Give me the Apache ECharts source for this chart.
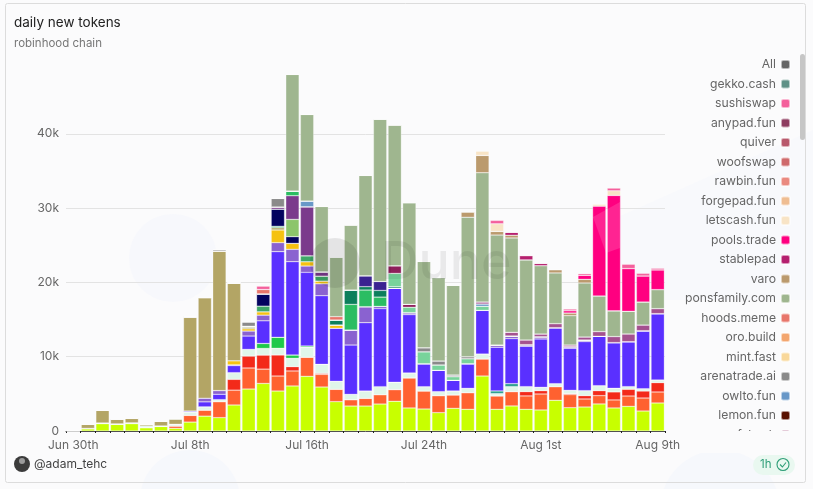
<!DOCTYPE html>
<html><head><meta charset="utf-8">
<style>html,body{margin:0;padding:0;background:#fbfbfc}#c{width:813px;height:489px}</style>
<script src="https://cdn.jsdelivr.net/npm/echarts@6/dist/echarts.min.js"></script>
</head><body><div id="c"></div>
<script>
const categories = ['Jun 30th','Jul 1st','Jul 2nd','Jul 3rd','Jul 4th','Jul 5th','Jul 6th','Jul 7th','Jul 8th','Jul 9th',
 'Jul 10th','Jul 11th','Jul 12th','Jul 13th','Jul 14th','Jul 15th','Jul 16th','Jul 17th','Jul 18th','Jul 19th',
 'Jul 20th','Jul 21st','Jul 22nd','Jul 23rd','Jul 24th','Jul 25th','Jul 26th','Jul 27th','Jul 28th','Jul 29th',
 'Jul 30th','Jul 31st','Aug 1st','Aug 2nd','Aug 3rd','Aug 4th','Aug 5th','Aug 6th','Aug 7th','Aug 8th','Aug 9th'];
const lime = [30,300,1000,900,1000,450,620,360,1200,2000,
 1800,3500,5650,6400,5380,6060,7360,5920,3950,3360,
 3360,3630,4000,3100,2960,2470,3050,2920,7400,2920,
 3370,2920,2830,4130,3140,3230,3640,3100,3320,2690,3770];
const orange = [0,0,0,0,0,0,0,300,900,800,
 2150,2000,2830,1930,2020,2020,2560,1700,1660,850,
 1030,1260,1570,4040,2420,2290,1800,2240,2290,1800,
 1930,1800,2150,1840,1750,1080,1120,1080,1390,1750,1480];
const red = [0,0,0,0,0,0,0,0,0,0,
 0,1450,1600,1880,2830,580,0,130,0,0,
 0,0,0,0,0,0,0,0,0,0,
 0,580,450,0,130,450,670,1080,900,940,1260];
const mint = [0,50,80,60,100,100,60,250,450,450,
 270,900,900,900,900,1120,1350,1220,1080,720,
 990,1080,990,670,580,540,540,580,670,310,
 670,670,450,400,450,670,670,490,360,310,360];
const green = [0,0,0,0,0,130,0,0,0,0,
 0,0,0,670,1480,450,180,0,0,0,
 0,0,0,0,0,0,0,0,0,0,
 0,0,0,0,0,0,0,0,0,0,0];
const teal = [0,0,0,0,0,0,0,0,0,0,
 0,0,0,0,0,0,0,0,0,0,
 0,0,0,0,0,0,0,0,0,360,
 400,0,0,0,0,0,0,0,0,0,0];
const violet = [0,0,0,0,0,0,0,0,150,670,
 720,950,1800,3050,11530,12560,9900,9240,7130,6640,
 9200,10500,12650,7850,3100,2870,1440,3320,5880,5880,
 6060,5430,6500,7540,5660,6600,6650,6150,6060,7810,8930];
const lavender = [0,0,0,0,0,0,0,0,0,500,
 500,100,670,760,1210,1660,850,1600,0,2020,
 2150,300,0,270,0,0,0,0,0,300,
 360,220,310,0,220,220,0,0,0,0,0];
const yellow = [0,0,0,0,0,0,0,0,0,0,
 0,540,300,450,1700,800,580,360,450,0,
 0,0,0,0,0,0,0,0,0,0,
 0,0,0,0,0,0,0,0,0,0,0];
const olive = [50,550,1700,640,600,200,620,750,12600,13500,
 18800,10450,200,0,300,0,0,0,0,0,
 0,0,0,0,0,0,0,0,0,0,
 0,0,0,0,0,0,0,0,0,0,0];
const forest = [0,0,0,0,0,0,0,0,0,0,
 0,0,150,760,200,0,800,670,0,0,
 0,0,0,0,0,0,0,0,0,0,
 0,0,0,0,0,0,0,0,0,0,0];
const navy = [0,0,0,0,0,0,0,0,0,60,
 0,0,0,1660,2300,900,0,0,0,0,
 0,0,0,0,0,0,0,0,0,0,
 0,0,0,0,0,0,0,0,0,0,0];
const leaf = [0,0,0,0,0,0,0,0,0,0,
 0,0,0,0,0,2330,0,0,0,0,
 0,0,0,0,0,0,0,0,0,0,
 0,0,0,0,0,0,0,0,0,0,0];
const plum = [0,0,0,0,0,0,0,0,0,0,
 0,0,0,0,300,3180,6600,580,0,0,
 0,0,0,0,0,0,0,0,0,0,
 0,0,0,0,0,0,0,0,0,0,0];
const emerald = [0,0,0,0,0,0,0,0,0,0,
 0,0,0,0,0,630,0,0,0,3450,
 2240,1250,0,0,0,0,0,0,0,0,
 0,0,0,0,0,0,0,0,0,0,0];
const deepGreen = [0,0,0,0,0,0,0,0,0,0,
 0,0,0,0,0,0,0,0,670,1930,
 450,900,200,0,0,0,0,0,0,0,
 0,0,0,0,0,0,0,0,0,0,0];
const indigo = [0,0,0,0,0,0,0,0,0,0,
 0,0,0,0,0,0,0,0,0,0,
 1480,1200,0,0,0,0,0,0,0,0,
 0,0,0,0,0,0,0,0,0,0,0];
const seafoam = [0,0,0,0,0,0,0,0,0,0,
 0,0,0,0,0,0,0,0,0,0,
 0,0,1800,720,1600,720,490,670,540,0,
 0,0,0,0,0,0,0,0,0,0,0];
const clippedEntry = [0,0,0,0,0,0,0,0,0,0,
 0,0,0,0,0,0,0,0,0,0,
 0,0,1030,400,0,0,0,0,0,0,
 0,0,0,0,0,0,0,0,0,0,0];
const owlto = [0,0,0,0,0,0,0,0,0,0,
 0,0,0,0,0,0,760,0,0,0,
 0,0,0,0,0,0,0,0,310,0,
 0,0,0,0,0,0,0,0,0,0,0];
const arenatrade = [0,0,0,0,0,0,0,0,100,0,
 200,150,600,0,1150,0,0,0,0,0,
 0,0,0,0,540,540,220,270,0,0,
 0,0,0,0,0,0,0,0,0,0,0];
const mauve = [0,0,0,0,0,0,0,0,0,0,
 0,0,0,0,0,0,0,0,0,0,
 0,0,0,0,0,0,0,0,270,0,
 490,630,360,540,220,400,630,810,1030,760,670];
const hoods = [0,0,0,0,0,0,0,0,0,0,
 0,0,0,580,0,0,0,0,450,0,
 0,0,0,0,0,0,0,0,0,0,
 0,0,0,0,0,0,0,0,0,0,0];
const pons = [0,0,0,0,0,0,0,0,0,0,
 0,0,0,0,0,15700,11660,8800,8000,8750,
 13500,21850,18940,13680,11620,11220,12070,18770,17400,14800,
 12700,10780,9200,6820,3950,7270,4800,3460,3050,3100,2560];
const varo = [0,0,0,0,0,0,0,0,0,0,
 0,0,0,0,0,0,0,0,0,0,
 0,0,0,0,0,0,0,720,2330,490,
 360,0,0,450,360,490,0,0,0,0,0];
const stablepad = [0,0,0,0,0,0,0,0,0,0,
 0,0,0,0,0,0,0,0,0,0,
 0,0,0,0,0,0,0,0,0,0,
 400,580,310,0,0,0,0,0,0,0,0];
const pools = [0,0,0,0,0,0,0,0,0,0,
 0,0,0,0,0,0,0,0,0,0,
 0,0,0,0,0,0,0,0,0,0,
 0,0,0,0,310,540,12080,15530,5750,3500,2650];
const letscash = [0,0,0,0,0,0,0,0,0,0,
 0,0,0,0,0,0,0,0,0,0,
 0,0,0,0,0,0,0,0,580,1030,
 0,0,0,0,0,0,270,630,0,0,0];
const sushiswap = [0,0,0,0,0,0,0,0,0,0,
 0,0,0,450,0,0,0,0,0,0,
 0,0,0,0,0,0,0,0,0,450,
 0,0,0,0,220,220,0,360,580,360,220];
const noMarks = [];

// bottom of the stack first
const stackSeries = [
 ['lime token',lime,'#c8ff00'],['orange token',orange,'#ff6130'],['red token',red,'#f32a1a'],
 ['mint token',mint,'#e0f6ea'],['green token',green,'#1ec94a'],['teal token',teal,'#2a9d8f'],
 ['violet token',violet,'#5a30ff'],['lavender token',lavender,'#8a62d0'],['yellow token',yellow,'#f5c211'],
 ['olive token',olive,'#b3a565'],['forest token',forest,'#3fa868'],['navy token',navy,'#03035f'],
 ['leaf token',leaf,'#8cc56b'],['plum token',plum,'#7b3a8c'],['emerald token',emerald,'#2bbd62'],
 ['deep green token',deepGreen,'#0c7f5c'],['indigo token',indigo,'#3a2391'],['seafoam token',seafoam,'#78d39b'],
 ['fxhash',clippedEntry,'#8e1f5b'],['lemon.fun',noMarks,'#5a1100'],['owlto.fun',owlto,'#6898c8'],
 ['arenatrade.ai',arenatrade,'#8a8a8a'],['mint.fast',noMarks,'#f9d89a'],['oro.build',noMarks,'#f3a66f'],
 ['mauve token',mauve,'#a4518f'],['hoods.meme',hoods,'#e8766b'],['ponsfamily.com',pons,'#9fb68f'],
 ['varo',varo,'#bb9a6d'],['stablepad',stablepad,'#b5206f'],['pools.trade',pools,'#ff0080'],
 ['letscash.fun',letscash,'#f8e4c6'],['forgepad.fun',noMarks,'#efbd92'],['rawbin.fun',noMarks,'#ea8a80'],
 ['woofswap',noMarks,'#cf6a6c'],['quiver',noMarks,'#b8596c'],['anypad.fun',noMarks,'#8e3c60'],
 ['sushiswap',sushiswap,'#f4609c'],['gekko.cash',noMarks,'#5f9187'],['All',noMarks,'#666666']
];
const legendNames = ['All','gekko.cash','sushiswap','anypad.fun','quiver','woofswap','rawbin.fun','forgepad.fun',
 'letscash.fun','pools.trade','stablepad','varo','ponsfamily.com','hoods.meme','oro.build','mint.fast',
 'arenatrade.ai','owlto.fun','lemon.fun','fxhash'];
const font = 'Inter, "Noto Sans", sans-serif';
const chart = echarts.init(document.getElementById('c'), null, {renderer:'canvas'});
chart.setOption({
 animation:false,
 backgroundColor:'#fbfbfc',
 title:{text:'daily new tokens',subtext:'robinhood chain',left:9,top:11,itemGap:8,
  textStyle:{fontFamily:font,fontSize:13.5,fontWeight:400,color:'#222'},
  subtextStyle:{fontFamily:font,fontSize:11.5,color:'#777'}},
 legend:{data:legendNames,orient:'vertical',right:17,top:53.5,align:'right',icon:'roundRect',
  itemWidth:9,itemHeight:9,itemGap:7.5,selectedMode:false,
  textStyle:{fontFamily:font,fontSize:12.2,color:'#666',padding:[0,0,0,0]}},
 grid:{left:66,right:148,top:60,bottom:58},
 xAxis:{type:'category',data:categories,
  axisLine:{lineStyle:{color:'#444',width:1}},
  axisTick:{show:true,length:2,interval:0,lineStyle:{color:'#222'}},
  axisLabel:{interval:7,fontFamily:font,fontSize:12,color:'#666',margin:8}},
 yAxis:{type:'value',min:0,max:49930,interval:10000,
  axisLine:{show:false},axisTick:{show:false},
  axisLabel:{showMaxLabel:false,fontFamily:font,fontSize:12,color:'#666',margin:7,
   formatter:v=>v===0?'0':(v/1000)+'k'},
  splitLine:{showMaxLine:false,lineStyle:{color:'#e3e3e3'}}},
 series:stackSeries.map(([name,data,color])=>({name,type:'bar',stack:'t',data,barCategoryGap:'9%',
  itemStyle:{color,borderColor:'rgba(255,255,255,0.55)',borderWidth:0.5}})),
 graphic:[
  {type:'circle',silent:true,z:-1,shape:{cx:173,cy:258,r:44},style:{fill:'#f7f8fc'}},
  {type:'polygon',silent:true,z:-1,shape:{points:[[600,225],[813,130],[813,300],[640,300]]},style:{fill:'#f8f9fc'}},
  {type:'circle',silent:true,z:-1,shape:{cx:190,cy:500,r:50},style:{fill:'#f6f8fc'}},
  {type:'circle',silent:true,z:-1,shape:{cx:720,cy:510,r:60},style:{fill:'#f6f8fc'}},
  {type:'circle',silent:true,z:60,shape:{cx:335,cy:263,r:25},style:{fill:'rgba(0,0,0,0.09)'}},
  {type:'text',silent:true,z:60,style:{text:'Dune',x:381,y:263,verticalAlign:'middle',
   font:'500 52px '+font,fill:'rgba(0,0,0,0.07)'}},
  {type:'polygon',silent:true,z:60,shape:{points:[[593,217],[620,202],[620,248],[606,253]]},style:{fill:'rgba(255,255,255,0.14)'}},
  {type:'rect',silent:true,z:70,shape:{x:680,y:431,width:124,height:22},style:{fill:'#fbfbfc'}},
  {type:'rect',silent:true,z:71,shape:{x:5.5,y:3.5,width:800,height:479,r:2},style:{fill:'none',stroke:'#dcdcdc',lineWidth:1}},
  {type:'rect',silent:true,z:71,shape:{x:800,y:54,width:5,height:86,r:2.5},style:{fill:'#c6c6c6'}},
  {type:'circle',silent:true,z:71,shape:{cx:22,cy:464,r:8},style:{fill:'#3b3b3b'}},
  {type:'circle',silent:true,z:72,shape:{cx:22,cy:461,r:3},style:{fill:'#9a9a9a'}},
  {type:'text',silent:true,z:71,style:{text:'@adam_tehc',x:34,y:464,verticalAlign:'middle',font:'12px '+font,fill:'#444'}},
  {type:'rect',silent:true,z:71,shape:{x:753,y:455,width:42,height:20,r:10},style:{fill:'#e9f8f0'}},
  {type:'text',silent:true,z:72,style:{text:'1h',x:760,y:465,verticalAlign:'middle',font:'11.5px '+font,fill:'#2f9e78'}},
  {type:'circle',silent:true,z:72,shape:{cx:783,cy:464.5,r:6},style:{fill:'none',stroke:'#2f9e78',lineWidth:1.1}},
  {type:'polyline',silent:true,z:72,shape:{points:[[780,464.5],[782.4,467],[786,462.5]]},style:{fill:'none',stroke:'#2f9e78',lineWidth:1.1}}
 ]
});
</script></body></html>
